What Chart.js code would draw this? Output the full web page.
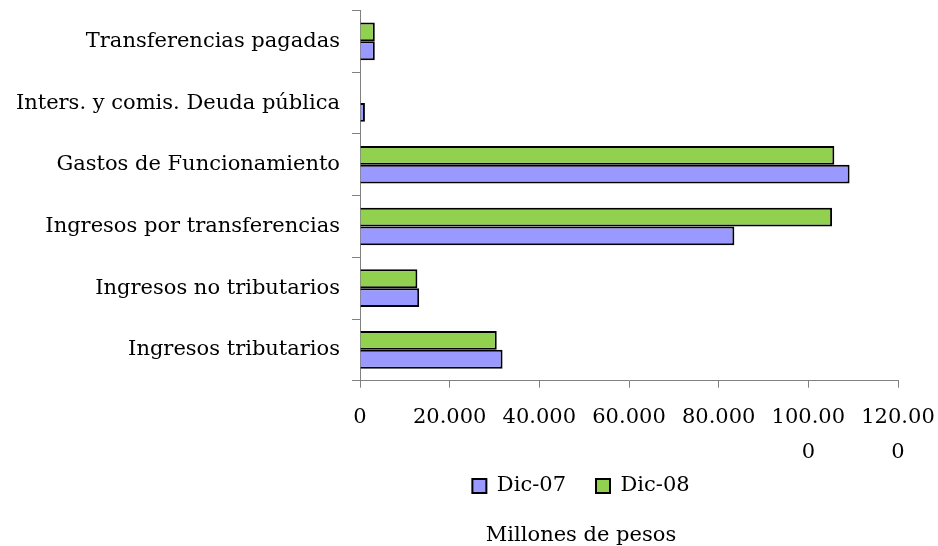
<!DOCTYPE html>
<html>
<head>
<meta charset="utf-8">
<script src="https://cdn.jsdelivr.net/npm/chart.js@4.4.1/dist/chart.umd.min.js"></script>
<style>
  html, body { margin: 0; padding: 0; background: #fff; }
</style>
</head>
<body>
<canvas id="chart" width="938" height="546"></canvas>
<script>
const categories = [
  "Transferencias pagadas",
  "Inters. y comis. Deuda pública",
  "Gastos de Funcionamiento",
  "Ingresos por transferencias",
  "Ingresos no tributarios",
  "Ingresos tributarios",
];

// millones de pesos
const dic07 = [3300, 1100, 109200, 83500, 13200, 31800];
const dic08 = [3300, 0, 105800, 105300, 12800, 30500];

const xTickLabels = ["0", "20.000", "40.000", "60.000", "80.000", ["100.00", "0"], ["120.00", "0"]];

const AXIS_GREY = "#808080";
const FONT_SIZE = 21;

Chart.defaults.font.family = "'DejaVu Serif', serif";
Chart.defaults.font.size = FONT_SIZE;
Chart.defaults.color = "#000";

// legend and title sit off-centre in the original, under the middle of the plot;
// legend also overlaps the tall x axis box a bit
const shiftBottomBoxes = {
  id: "shiftBottomBoxes",
  afterLayout(chart) {
    [chart.legend, chart.titleBlock].forEach((box) => {
      if (!box) return;
      const dx = 581 - (box.left + box.right) / 2;
      box.left += dx;
      box.right += dx;
    });
    const legend = chart.legend;
    if (legend) {
      const dy = 445.5 - legend.top;
      legend.top += dy;
      legend.bottom += dy;
    }
  },
};

const ctx = document.getElementById("chart").getContext("2d");

new Chart(ctx, {
  type: "bar",
  data: {
    labels: categories,
    datasets: [
      {
        label: "Dic-07",
        data: dic07,
        backgroundColor: "#9999ff",
        borderColor: "#000",
        borderWidth: 2,
        order: 1,
      },
      {
        label: "Dic-08",
        data: dic08,
        backgroundColor: "#92d050",
        borderColor: "#000",
        borderWidth: 2,
        order: 0,
      },
    ],
  },
  options: {
    indexAxis: "y",
    responsive: false,
    animation: false,
    categoryPercentage: 0.61,
    barPercentage: 1,
    layout: {
      padding: { top: 10.5, right: 40, bottom: 0, left: 0 },
    },
    plugins: {
      legend: {
        position: "bottom",
        reverse: true,
        labels: {
          boxWidth: 14,
          boxHeight: 14,
          padding: 30,
        },
      },
      title: {
        display: true,
        position: "bottom",
        text: "Millones de pesos",
        font: { size: FONT_SIZE, weight: "normal", lineHeight: 1 },
        padding: { top: 0, bottom: 0 },
      },
      tooltip: { enabled: false },
    },
    scales: {
      x: {
        min: 0,
        max: 120000,
        afterFit: (scale) => {
          scale.height = 83.3;
          scale.paddingLeft = 0;
          scale.paddingRight = 0;
        },
        ticks: {
          stepSize: 20000,
          autoSkip: false,
          maxRotation: 0,
          padding: 12,
          font: { size: FONT_SIZE, lineHeight: 1.667 },
          callback: (value, index) => xTickLabels[index],
        },
        grid: {
          drawOnChartArea: false,
          tickLength: 7,
          color: AXIS_GREY,
        },
        border: { color: AXIS_GREY, width: 1 },
      },
      y: {
        afterFit: (scale) => {
          scale.width = 360;
          scale.paddingTop = 0;
          scale.paddingBottom = 0;
        },
        ticks: {
          padding: 12,
        },
        grid: {
          drawOnChartArea: false,
          tickLength: 8,
          color: AXIS_GREY,
        },
        border: { color: AXIS_GREY, width: 1 },
      },
    },
  },
  plugins: [shiftBottomBoxes],
});
</script>
</body>
</html>
